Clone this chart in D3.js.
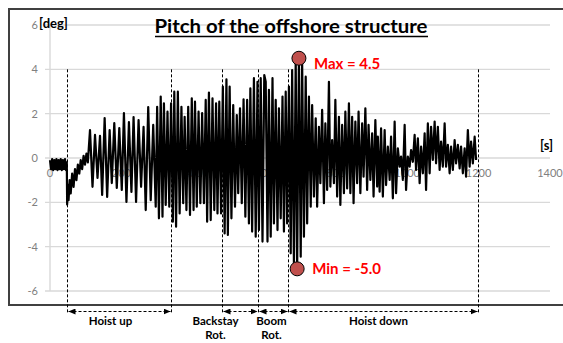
<!DOCTYPE html>
<meta charset="utf-8">
<style>
  body { margin: 0; background: #fff; }
  svg text { font-family: Lato, "Open Sans", sans-serif; }
  .tick-label { font-size: 11px; fill: #808080; }
  .grid { stroke: #d9d9d9; stroke-width: 1.4px; }
  .phase { font-size: 11.5px; font-weight: bold; fill: #000; }
</style>
<body>
<script src="https://cdnjs.cloudflare.com/ajax/libs/d3/7.8.5/d3.min.js"></script>
<script>
  // pitch signal [time s, pitch deg], split by phase
  var settle = [[0,-0.1],[3,-0.5],[6,-0.05],[9,-0.55],[12,-0.1],[15,-0.5],[18,-0.05],[21,-0.55],[24,-0.1],[27,-0.5],[30,-0.05],[33,-0.55],[36,-0.1],[39,-0.5],[42,-0.05],[45,-0.55],[47,-0.2]];

  var hoistUp = [[48,-2.1],[50,-1.2],[52,-1.9],[55,-1.0],[58,-1.6],[62,-0.7],[66,-1.3],[70,-0.5],[74,-1.0],[78,-0.3],[82,-0.7],[86,-0.1],[90,-0.5],[94,0.1],[98,-0.3],[102,0.2],[106,-0.2],
    [112,1.26],[119,-1.3],[126,1.04],[133,-0.9],[140,1.0],[146,-1.67],[153,1.8],[160,-1.76],[167,1.26],[173,-1.13],[180,1.58],[187,-1.35],[194,1.35],[201,-1.44],[207,2.03],[214,-1.98],[221,1.62],[228,-1.53],[234,1.85],[241,-1.98],[248,1.71],[255,-1.3],[262,1.4],[268,-2.35],[275,2.3],[282,-1.9],[289,1.49],[296,-2.2],
    [300,2.31],[305,-2.72],[310,2.77],[315,-2.65],[319,2.47],[324,-2.12],[329,2.09],[334,-2.2]];

  var pause = [[339,2.47],[344,-2.87],[348,2.99],[353,-3.1],[358,2.99],[363,-2.5],[368,2.31],[373,-2.04],[377,1.86],[382,-2.35],[387,2.31],[392,-2.57],[397,2.69],[402,-2.35],[406,2.54],[411,-2.2],[416,2.09],[421,-2.04],[426,2.02],[431,-2.04],[436,2.62],[440,-2.87],[445,2.95],[450,-2.8],[455,2.69],[460,-2.35],[465,2.47],[469,-2.5],[474,2.54],[479,-2.5]];

  var backstayRot = [[484,3.22],[489,-3.4],[494,3.55],[498,-3.47],[503,3.22],[508,-2.72],[513,2.39],[518,-2.2],[523,1.94],[527,-1.59],[532,2.24],[537,-2.04],[542,2.65],[547,-2.65],[552,2.62],[557,-2.95],[561,3.14],[566,-3.32],[571,3.6],[576,-3.55],[581,3.44]];

  var boomRot = [[585,-3.25],[590,3.6],[595,-3.77],[600,3.74],[604,3.44],[609,-3.77],[613,3.07],[618,-3.55],[623,3.6],[627,-2.95],[632,2.62],[637,-3.25],[641,2.24],[646,-2.72],[651,2.77],[655,-3.32],[660,2.99],[664,-2.95]];

  var hoistDown = [[669,3.22],[674,-4.3],[678,3.97],[683,-4.75],[688,4.42],[692,-5.0],[697,4.5],[702,-4.45],[706,4.27],[711,-3.55],[716,3.67],[720,-2.95],[725,2.77],[730,-2.2],[734,2.39],[739,-1.74],[744,1.79],[748,-2.2],[753,1.41],[757,-1.14],[762,2.17],[767,-2.04],[771,1.56],[776,-1.44],[781,3.44],[785,-1.29],[790,0.81],[795,-1.14],[799,2.62],[804,-1.74],[809,1.86],[813,-2.12],[818,1.49],[823,-1.59],[827,2.09],[832,-1.37],[837,2.47],[841,-1.59],[846,1.86],[850,-2.04],[855,1.64],[860,-1.14],[864,2.09],[869,-1.59],[874,1.56],[878,-0.84],[883,2.24],[888,-1.44],[892,1.49],[897,-0.99],[902,1.11],[906,-1.74],[911,1.71],[916,-1.29],
    [918,0.96],[923,-1.52],[927,1.34],[932,-1.74],[937,1.26],[941,-1.22],[946,0.51],[951,-0.99],[955,0.96],[960,-1.82],[965,1.64],[969,-1.59],[974,0.44],[979,-0.39],[983,0.06],[988,-0.99],[993,1.49],[997,-1.44],[1002,0.06],[1007,-0.39],[1011,0.36],[1016,-0.17],[1021,1.04],[1025,-0.54],[1030,0.89],[1035,-1.14],[1039,0.51],[1044,-0.69],[1049,1.11],[1053,-1.44],[1058,1.56],[1063,-0.69],[1067,1.41],[1072,-0.09],[1077,1.64],[1081,-0.24],[1086,1.41],[1091,-0.54],[1095,0.74],[1100,-0.39],[1105,1.56],[1109,-0.39],[1114,0.59],[1119,-0.69],[1123,0.51],[1128,-0.54],[1133,0.81],[1137,-0.24],[1142,0.59],[1147,-0.47],[1151,0.51],[1156,-0.69],[1161,0.44],[1165,-0.84],[1170,1.26],[1175,-0.39],[1179,0.74],[1184,-0.24],[1189,0.96],[1193,-0.09]];

  var yTicks = [-6, -4, -2, 0, 2, 4, 6];
  var xTicks = [0, 200, 400, 600, 800, 1000, 1200, 1400];

  var phaseNames = [["Hoist up"], ["Backstay", "Rot."], ["Boom", "Rot."], ["Hoist down"]];
  var phaseStart = [47, 481, 582, 666];
  var phaseEnd = [338, 582, 666, 1198];
  var phaseLines = [47, 338, 481, 582, 666, 1198];

  var signal = [].concat(settle, hoistUp, pause, backstayRot, boomRot, hoistDown);

  var width = 563, height = 343;

  var x = d3.scaleLinear().domain([0, 1400]).range([50, 550]);
  var y = d3.scaleLinear().domain([-6, 6]).range([291, 25]);

  var svg = d3.select("body").append("svg")
    .attr("width", width)
    .attr("height", height);

  // chart frame (right side falls outside the picture)
  svg.append("rect")
    .attr("x", 9).attr("y", 9)
    .attr("width", 620).attr("height", 296)
    .attr("fill", "none")
    .attr("stroke", "#404040")
    .attr("stroke-width", 2);

  svg.selectAll(".grid")
    .data(yTicks)
    .enter().append("line")
    .attr("class", "grid")
    .attr("x1", 45).attr("x2", x(1400))
    .attr("y1", function(d){ return y(d); })
    .attr("y2", function(d){ return y(d); });

  svg.append("line")
    .attr("class", "grid")
    .attr("x1", x(0)).attr("x2", x(0))
    .attr("y1", y(6)).attr("y2", y(-6));

  svg.selectAll(".ylab")
    .data(yTicks)
    .enter().append("text")
    .attr("class", "tick-label")
    .attr("x", 38)
    .attr("y", function(d){ return y(d); })
    .attr("dy", "0.35em")
    .attr("text-anchor", "end")
    .text(function(d){ return d; });

  svg.selectAll(".xlab")
    .data(xTicks)
    .enter().append("text")
    .attr("class", "tick-label")
    .attr("x", function(d){ return x(d); })
    .attr("y", y(0) + 19)
    .attr("text-anchor", "middle")
    .text(function(d){ return d; });

  var line = d3.line()
    .x(function(d){ return x(d[0]); })
    .y(function(d){ return y(d[1]); });

  svg.append("path")
    .datum(signal)
    .attr("d", line)
    .attr("fill", "none")
    .attr("stroke", "#000")
    .attr("stroke-width", 2.2)
    .attr("stroke-linejoin", "round");

  // phase boundaries
  svg.selectAll(".bound")
    .data(phaseLines)
    .enter().append("line")
    .attr("x1", function(d){ return Math.round(x(d)) + 0.5; })
    .attr("x2", function(d){ return Math.round(x(d)) + 0.5; })
    .attr("y1", y(4)).attr("y2", 313)
    .attr("stroke", "#000")
    .attr("stroke-width", 1)
    .attr("stroke-dasharray", "3,2");

  svg.append("defs").append("marker")
    .attr("id", "head")
    .attr("viewBox", "0 0 7 6")
    .attr("refX", 7).attr("refY", 3)
    .attr("markerWidth", 7).attr("markerHeight", 6)
    .attr("markerUnits", "userSpaceOnUse")
    .attr("orient", "auto-start-reverse")
    .append("path")
    .attr("d", "M0,0L7,3L0,6Z")
    .attr("fill", "#000");

  var labelShift = [-9, -25, -2, -5];

  phaseNames.forEach(function(names, i){
    var x0 = Math.round(x(phaseStart[i])) + 0.5,
        x1 = Math.round(x(phaseEnd[i])) + 0.5;
    svg.append("line")
      .attr("x1", x0 + 1).attr("x2", x1 - 1)
      .attr("y1", 311.5).attr("y2", 311.5)
      .attr("stroke", "#000")
      .attr("stroke-dasharray", "3,2")
      .attr("marker-start", "url(#head)")
      .attr("marker-end", "url(#head)");

    names.forEach(function(n, j){
      svg.append("text")
        .attr("class", "phase")
        .attr("x", (x0 + x1) / 2 + labelShift[i])
        .attr("y", 325 + j * 14)
        .attr("text-anchor", "middle")
        .text(n);
    });
  });

  // extremes
  var maxPt = d3.greatest(signal, function(d){ return d[1]; }),
      minPt = d3.least(signal, function(d){ return d[1]; });

  [["Max", maxPt, 11], ["Min", minPt, 5]].forEach(function(m){
    var p = m[1];
    svg.append("circle")
      .attr("cx", x(p[0]))
      .attr("cy", y(p[1]))
      .attr("r", 7)
      .attr("fill", "#c0504d")
      .attr("stroke", "#000")
      .attr("stroke-width", 1);
    svg.append("text")
      .attr("x", x(p[0]) + 15)
      .attr("y", y(p[1]) + m[2])
      .attr("font-size", "15px")
      .attr("font-weight", "bold")
      .attr("fill", "#ff0000")
      .text(m[0] + " = " + p[1].toFixed(1));
  });

  svg.append("text")
    .attr("x", 39).attr("y", 23)
    .attr("dy", "0.35em")
    .attr("font-size", "13px")
    .attr("font-weight", "bold")
    .text("[deg]");

  svg.append("text")
    .attr("x", 540).attr("y", 150)
    .attr("font-size", "13px")
    .attr("font-weight", "bold")
    .text("[s]");

  svg.append("text")
    .attr("x", 291).attr("y", 33)
    .attr("text-anchor", "middle")
    .attr("font-size", "18px")
    .attr("font-weight", "bold")
    .attr("textLength", 273)
    .attr("lengthAdjust", "spacingAndGlyphs")
    .text("Pitch of the offshore structure");

  svg.append("line")
    .attr("x1", 155).attr("x2", 428)
    .attr("y1", 36.5).attr("y2", 36.5)
    .attr("stroke", "#000")
    .attr("stroke-width", 1.5);
</script>
